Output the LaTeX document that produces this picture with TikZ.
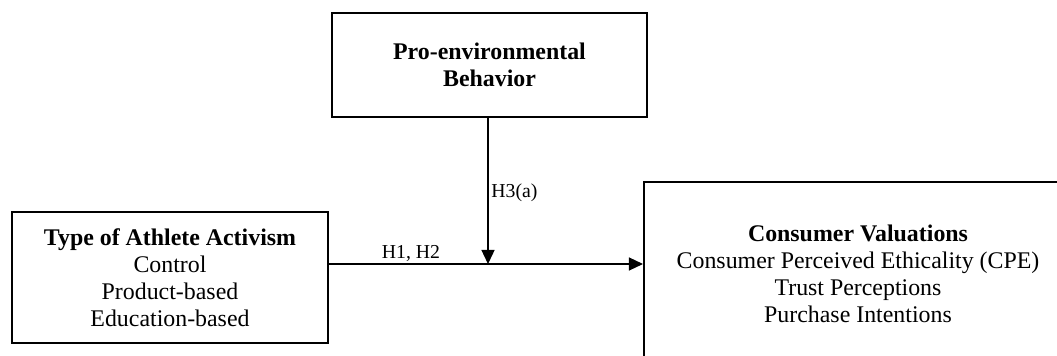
\documentclass[tikz,border=0pt]{standalone}
\usepackage{fontspec}
\setmainfont{Liberation Serif}
\usetikzlibrary{arrows.meta}
\begin{document}
\begin{tikzpicture}[x=0.532pt,y=-0.532pt,
 box/.style={draw, line width=1.1pt, inner sep=0pt, align=center, font=\fontsize{12.7}{14.3}\selectfont},
 conn/.style={line width=0.6pt, -{Triangle[length=7.5pt,width=7pt]}},
 lbl/.style={font=\fontsize{10.5}{12}\selectfont, inner sep=0pt}]
\useasboundingbox (0,0) rectangle (1057,356);
\clip (0,0) rectangle (1057,356);
\node[box, minimum width=167.6pt, minimum height=55.3pt] (peb) at (489.5,65) {\textbf{Pro-environmental}\\\textbf{Behavior}};
\node[box, minimum width=168.1pt, minimum height=69.7pt] (taa) at (170,277.5) {\textbf{Type of Athlete Activism}\\Control\\Product-based\\Education-based};
\node[box, minimum width=227.7pt, minimum height=97.9pt] (cv) at (858,274) {\textbf{Consumer Valuations}\\Consumer Perceived Ethicality (CPE)\\Trust Perceptions\\Purchase Intentions};
\draw[conn] (taa.east |- 0,264) coordinate (s) -- (cv.west |- s);
\coordinate (m) at (488,264);
\draw[conn] (peb.south -| m) -- (m);
\node[lbl, anchor=west] (h3) at (491,193) {H3(a)};
\node[lbl] (h12) at (411,253) {H1, H2};
\end{tikzpicture}
\end{document}
